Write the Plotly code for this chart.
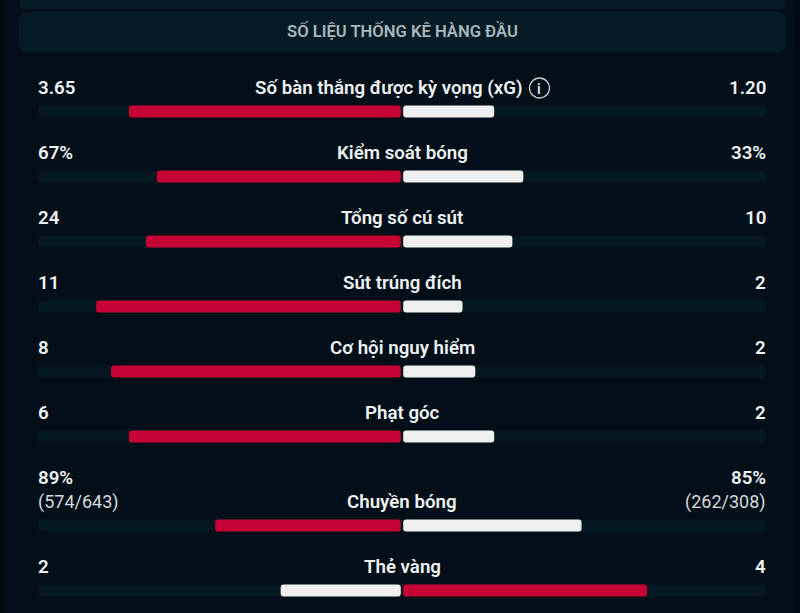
import plotly.graph_objects as go

title = "SỐ LIỆU THỐNG KÊ HÀNG ĐẦU"
labels = ["Số bàn thắng được kỳ vọng (xG)", "Kiểm soát bóng", "Tổng số cú sút", "Sút trúng đích",
          "Cơ hội nguy hiểm", "Phạt góc", "Chuyền bóng", "Thẻ vàng"]
left_text = ["3.65", "67%", "24", "11", "8", "6", "89%", "2"]
right_text = ["1.20", "33%", "10", "2", "2", "2", "85%", "4"]
left_sub = {6: "(574/643)"}
right_sub = {6: "(262/308)"}
left_share = [74.7, 67, 70, 83.7, 79.6, 74.7, 51, 33]
right_share = [25, 33, 30, 16.3, 19.8, 25, 49, 67]

BG = "#020e18"
RED = "#c50335"
WHITE = "#efefef"
TRACK = "#06181f"
PANEL = "#041a24"
TEXT = "#eef2f3"
FONT = "Roboto"

CX, HALF = 402.0, 3.64
GAP = 1.2 / 3.64

row_y = []
y = 111.5
for i in range(len(labels)):
    row_y.append(y)
    y += 89 if i == 5 else 65


def left_colour(i):
    return RED if left_share[i] >= right_share[i] else WHITE


def right_colour(i):
    return RED if right_share[i] > left_share[i] else WHITE


fig = go.Figure()
fig.add_trace(go.Bar(y=row_y, x=[-100] * 8, base=0, orientation="h", width=12,
                     marker=dict(color=TRACK, cornerradius=3, line_width=0), hoverinfo="skip"))
fig.add_trace(go.Bar(y=row_y, x=[100] * 8, base=0, orientation="h", width=12,
                     marker=dict(color=TRACK, cornerradius=3, line_width=0), hoverinfo="skip"))
fig.add_trace(go.Bar(y=row_y, x=[-v for v in left_share], base=[-GAP] * 8, orientation="h", width=12,
                     marker=dict(color=[left_colour(i) for i in range(8)], cornerradius=3, line_width=0)))
fig.add_trace(go.Bar(y=row_y, x=right_share, base=[GAP] * 8, orientation="h", width=12,
                     marker=dict(color=[right_colour(i) for i in range(8)], cornerradius=3, line_width=0)))


def xd(px):
    return (px - CX) / HALF


ann = []


def text(xp, yp, s, anchor="center", size=18.7, color=TEXT, weight=600):
    ann.append(dict(x=xd(xp), y=yp, xref="x", yref="y", text=s, showarrow=False, xanchor=anchor,
                    yanchor="middle", font=dict(family=FONT, size=size, color=color, weight=weight)))


text(402, 31, title, size=16.6, color="#a9b7bc", weight=600)
for i, yy in enumerate(row_y):
    ty = yy - 23.5
    text(36, ty if i != 6 else ty - 24, left_text[i], "left")
    text(768, ty if i != 6 else ty - 24, right_text[i], "right")
    if i == 0:
        text(388.5, ty, labels[i])
    else:
        text(402, ty, labels[i])
    if i in left_sub:
        text(36, ty, left_sub[i], "left", size=18, weight=400, color="#d5dbde")
        text(768, ty, right_sub[i], "right", size=18, weight=400, color="#d5dbde")
text(539, row_y[0] - 23, "i", size=14, color="#d5dbde", weight=700)

shapes = [
    dict(type="rect", xref="x", yref="y", x0=xd(-2), x1=xd(6), y0=-5, y1=620, fillcolor="#010a10", line_width=0, layer="below"),
    dict(type="rect", xref="x", yref="y", x0=xd(795), x1=xd(802), y0=-5, y1=620, fillcolor="#010a10", line_width=0, layer="below"),
    dict(type="rect", xref="x", yref="y", x0=xd(20), x1=xd(785), y0=-5, y1=9, fillcolor=PANEL, line_width=0, layer="below"),
    dict(type="path", xref="x", yref="y", layer="below", line_width=0, fillcolor=PANEL,
         path=f"M {xd(27)} 12 L {xd(778)} 12 Q {xd(786)} 12 {xd(786)} 20 L {xd(786)} 44 Q {xd(786)} 52 {xd(778)} 52 "
              f"L {xd(27)} 52 Q {xd(19)} 52 {xd(19)} 44 L {xd(19)} 20 Q {xd(19)} 12 {xd(27)} 12 Z"),
    dict(type="circle", xref="x", yref="y", x0=xd(529.5), x1=xd(549.5), y0=78, y1=98, line=dict(color="#c4cccf", width=1.3)),
]

fig.update_layout(
    width=800, height=613, margin=dict(l=0, r=0, t=0, b=0), barmode="overlay", showlegend=False,
    paper_bgcolor=BG, plot_bgcolor=BG, annotations=ann, shapes=shapes,
    xaxis=dict(range=[xd(0), xd(800)], visible=False, fixedrange=True),
    yaxis=dict(range=[613, 0], visible=False, fixedrange=True),
)
fig.write_html("out.html", config={"displayModeBar": False},
               post_script="document.body.style.margin='0';document.body.style.background='#020e18';")
